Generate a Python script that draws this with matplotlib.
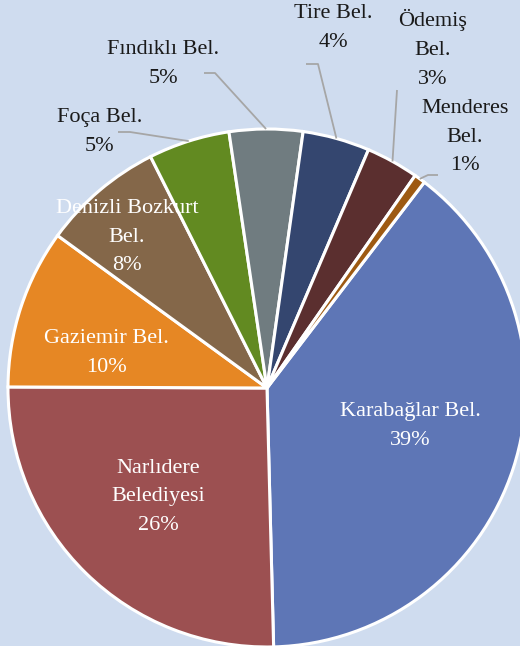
import numpy as np
import matplotlib.pyplot as plt
import matplotlib as mpl

mpl.rcParams["font.family"] = ["Liberation Serif", "DejaVu Serif"]

# -------------------------
# Data
# -------------------------
names = [
    "Karabağlar Bel.",
    "Narlıdere\nBelediyesi",
    "Gaziemir Bel.",
    "Denizli Bozkurt\nBel.",
    "Foça Bel.",
    "Fındıklı Bel.",
    "Tire Bel.",
    "Ödemiş\nBel.",
    "Menderes\nBel.",
]
shares = [39.4, 25.6, 10.0, 7.6, 5.1, 4.6, 4.2, 3.3, 0.7]

colors = [
    "#5E76B6",
    "#9C5051",
    "#E68724",
    "#846749",
    "#628A21",
    "#707C80",
    "#34466F",
    "#5B2F2F",
    "#9E5A12",
]

bg = "#CFDCEF"
W, H = 520, 646
cx, cy, R = 267, 388, 259   # pie centre / radius in pixels

# label block centres in pixels
label_pos = [
    (410, 426),
    (158, 497),
    (106, 353),
    (127, 237),
    (100, 132),
    (163, 64),
    (333, 28),
    (433, 49),
    (465, 137),
]
inside = [True, True, True, True, False, False, False, False, False]

# leader line bends (pixels): elbow then far end near the text
leaders = {
    4: [(130, 132), (118, 132)],
    5: [(215, 73), (204, 73)],
    6: [(318, 64), (306, 64)],
    7: [(397, 90)],
    8: [(428, 175), (438, 175)],
}

# -------------------------
# Figure
# -------------------------
fig = plt.figure(figsize=(W / 100, H / 100), dpi=100)
fig.patch.set_facecolor(bg)
ax = fig.add_axes([0, 0, 1, 1])
ax.set_facecolor(bg)

wedges, _ = ax.pie(
    shares,
    colors=colors,
    startangle=52.6,
    counterclock=False,
    radius=1,
    wedgeprops=dict(edgecolor="white", linewidth=2.2),
)

ax.set_xlim(-cx / R, (W - cx) / R)
ax.set_ylim(-(H - cy) / R, cy / R)
ax.set_aspect("auto")
ax.axis("off")


def px(p):
    return ((p[0] - cx) / R, (cy - p[1]) / R)


for i, (name, val) in enumerate(zip(names, shares)):
    text = f"{name}\n{val:.0f}%"
    x, y = px(label_pos[i])
    ax.text(
        x, y, text,
        ha="center", va="center",
        fontsize=16,
        linespacing=1.7,
        color="white" if inside[i] else "#1a1a1a",
    )

for i, pts in leaders.items():
    w = wedges[i]
    mid = np.deg2rad((w.theta1 + w.theta2) / 2)
    xs = [np.cos(mid) * 1.0]
    ys = [np.sin(mid) * 1.0]
    for p in pts:
        x, y = px(p)
        xs.append(x)
        ys.append(y)
    ax.plot(xs, ys, color="#A6A6A6", lw=1.3, solid_capstyle="butt")

plt.savefig("out.png", dpi=100, facecolor=bg)
